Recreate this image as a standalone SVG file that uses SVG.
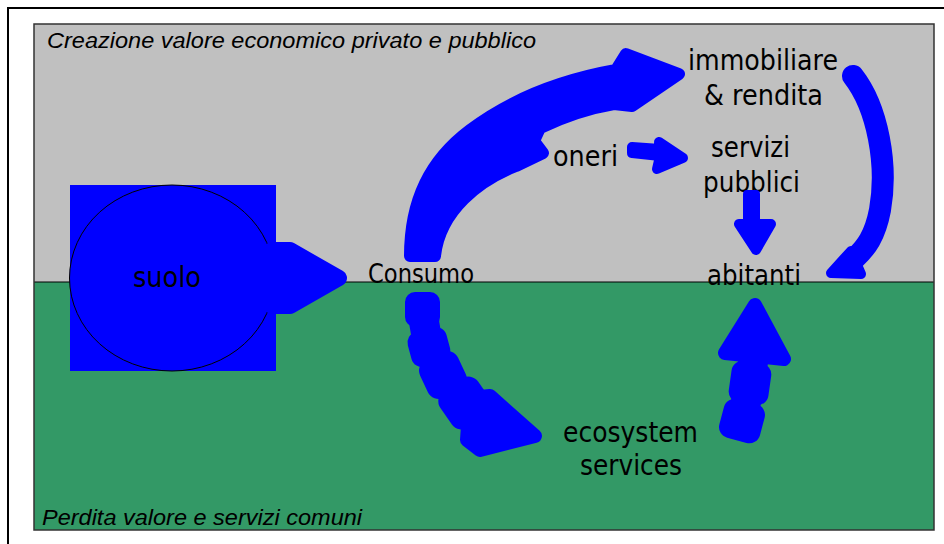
<svg xmlns="http://www.w3.org/2000/svg" width="944" height="544" viewBox="0 0 944 544">
  <defs>
    <style>
      .lbl { font-family: "DejaVu Sans", "Liberation Sans", sans-serif; font-size: 29px; fill: #000; }
      .zone { font-family: "Liberation Sans", Arial, sans-serif; font-style: italic; font-size: 22px; fill: #000; }
      .flow { fill: #0000FF; stroke: #0000FF; stroke-linejoin: round; stroke-linecap: round; }
      .line { fill: none; stroke: #0000FF; stroke-linecap: round; stroke-linejoin: round; }
    </style>
  </defs>

  <!-- page background and frame -->
  <rect x="0" y="0" width="944" height="544" fill="#FFFFFF"/>
  <path d="M8,544 L8,8 L944,8" fill="none" stroke="#000" stroke-width="2"/>

  <!-- two zones: value creation (grey) and value loss (green) -->
  <g id="zones">
    <rect x="34" y="24" width="900" height="258" fill="#C0C0C0"/>
    <rect x="34" y="282" width="900" height="248" fill="#339966"/>
    <line x1="34" y1="282" x2="934" y2="282" stroke="#000" stroke-width="1.2"/>
    <rect x="34" y="24" width="900" height="506" fill="none" stroke="#333" stroke-width="1.5"/>
    <text class="zone" x="47" y="48" textLength="489" lengthAdjust="spacingAndGlyphs">Creazione valore economico privato e pubblico</text>
    <text class="zone" x="42" y="525" textLength="320" lengthAdjust="spacingAndGlyphs">Perdita valore e servizi comuni</text>
  </g>

  <!-- nodes -->
  <g id="suolo">
    <rect x="70" y="185" width="206" height="186" fill="#0000FF"/>
    <ellipse cx="172" cy="278" rx="102.5" ry="93" fill="#0000FF" stroke="#000" stroke-width="1"/>
    <text class="lbl" x="133" y="287" textLength="68" lengthAdjust="spacingAndGlyphs">suolo</text>
  </g>
  <g id="consumo">
    <text class="lbl" x="368" y="283" style="font-size:26px" textLength="106" lengthAdjust="spacingAndGlyphs">Consumo</text>
  </g>
  <g id="oneri">
    <text class="lbl" x="553" y="166" textLength="65" lengthAdjust="spacingAndGlyphs">oneri</text>
  </g>
  <g id="immobiliare">
    <text class="lbl" x="688" y="70" textLength="150" lengthAdjust="spacingAndGlyphs">immobiliare</text>
    <text class="lbl" x="704" y="105" textLength="119" lengthAdjust="spacingAndGlyphs">&amp; rendita</text>
  </g>
  <g id="servizi-pubblici">
    <text class="lbl" x="711" y="157" textLength="79" lengthAdjust="spacingAndGlyphs">servizi</text>
    <text class="lbl" x="703" y="192" textLength="97" lengthAdjust="spacingAndGlyphs">pubblici</text>
  </g>
  <g id="abitanti">
    <text class="lbl" x="707" y="285" textLength="94" lengthAdjust="spacingAndGlyphs">abitanti</text>
  </g>
  <g id="ecosystem-services">
    <text class="lbl" x="563" y="442" textLength="135" lengthAdjust="spacingAndGlyphs">ecosystem</text>
    <text class="lbl" x="580" y="475" textLength="102" lengthAdjust="spacingAndGlyphs">services</text>
  </g>

  <!-- connectors: hand-drawn block arrows -->
  <g id="connectors">
    <!-- suolo -> Consumo -->
    <polygon class="flow" stroke-width="16" points="272,250 290,250 339,278 290,306 272,306"/>

    <!-- Consumo -> immobiliare, with the small spur towards oneri -->
    <path class="flow" stroke-width="12" d="M410,256 C410,200 430,160 470,130 C510,100 560,80 616,70 L626,54 L679,74 L632,106 L614,104 C590,108 565,116 540,128 L534,141 L543,153 L516,166 C480,180 440,210 435,256 Z"/>

    <!-- oneri -> servizi pubblici -->
    <polygon class="flow" stroke-width="10" points="632,147 660,149 659,142 683,158 657,169 660,156 632,153"/>

    <!-- servizi pubblici -> abitanti -->
    <rect class="flow" stroke-width="8" x="747" y="194" width="9" height="30"/>
    <polygon class="flow" stroke-width="10" points="739,224 771,224 756,250"/>

    <!-- immobiliare & rendita -> abitanti -->
    <path class="line" stroke-width="22" d="M853,76 C878,108 888,165 880,210 C875,236 866,248 855,258"/>
    <polygon class="flow" stroke-width="10" points="851,251 831,273 861,274"/>

    <!-- Consumo -> ecosystem services -->
    <path class="line" stroke-width="30" d="M422,310 L428,345 L443,375 L465,403 L480,420"/>
    <rect class="flow" stroke-width="2" x="406" y="293" width="33" height="33" rx="9"/>
    <rect class="flow" stroke-width="2" x="-19" y="-17" width="38" height="34" rx="10" transform="translate(429,347) rotate(-15)"/>
    <rect class="flow" stroke-width="2" x="-20" y="-20" width="40" height="40" rx="11" transform="translate(443,375) rotate(-25)"/>
    <rect class="flow" stroke-width="2" x="-22" y="-21" width="44" height="42" rx="11" transform="translate(465,403) rotate(-35)"/>
    <polygon class="flow" stroke-width="14" points="470,398 490,396 535,436 480,450 467,440"/>

    <!-- ecosystem services -> abitanti -->
    <path class="line" stroke-width="30" d="M742,421 L750,383 L754,355"/>
    <rect class="flow" stroke-width="2" x="-20" y="-19" width="40" height="38" rx="10" transform="translate(742,421) rotate(15)"/>
    <rect class="flow" stroke-width="2" x="-19" y="-20" width="38" height="40" rx="10" transform="translate(750,383) rotate(8)"/>
    <polygon class="flow" stroke-width="14" points="725,353 755,305 784,359"/>
  </g>
</svg>
